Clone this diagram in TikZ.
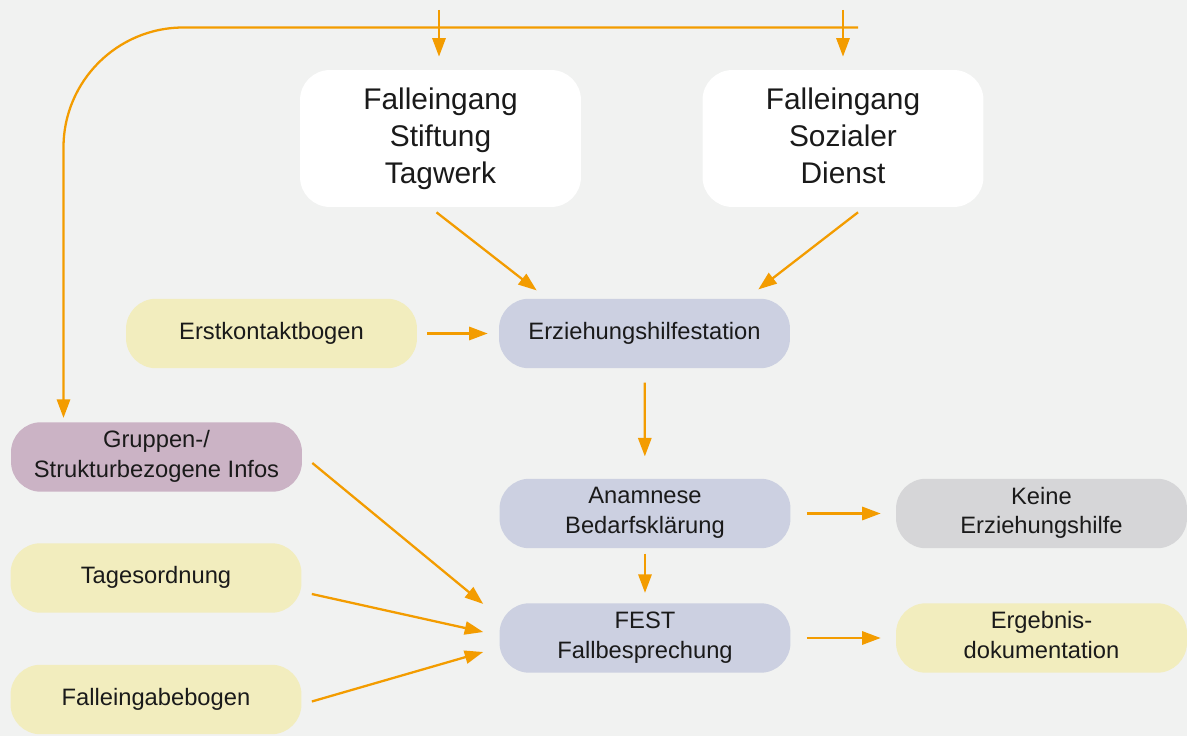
\documentclass[tikz,border=0pt]{standalone}
\usepackage{fontspec}
\setmainfont{Liberation Sans}
\usepackage{xcolor}
\usepackage{tikz}
\usetikzlibrary{arrows.meta, calc}

\definecolor{bgGrey}{RGB}{241,242,241}
\definecolor{arrOrange}{RGB}{243,156,0}
\definecolor{boxYellow}{RGB}{242,237,190}
\definecolor{boxBlue}{RGB}{204,208,225}
\definecolor{boxMauve}{RGB}{203,179,197}
\definecolor{boxGrey}{RGB}{214,214,216}
\definecolor{txtBlack}{RGB}{26,26,26}

\newcommand{\boxstrut}{\rule[-3.5pt]{0pt}{12pt}}
\newcommand{\entrystrut}{\rule[-3pt]{0pt}{19pt}}

\begin{document}
\begin{tikzpicture}[
        x=0.02cm, y=-0.02cm,
        base/.style={rounded corners=0.6cm, inner sep=2pt, align=center, text=txtBlack},
        box/.style={base, minimum width=5.82cm, minimum height=1.39cm, font=\fontsize{13.5}{17}\selectfont, execute at begin node=\boxstrut, execute at end node=\boxstrut},
        entry/.style={base, fill=white, minimum width=5.62cm, minimum height=2.74cm, font=\fontsize{17}{21}\selectfont, execute at begin node=\entrystrut, execute at end node=\entrystrut},
        arr/.style={draw=arrOrange, line width=1.3pt, -{Triangle[length=10.5pt, width=7.5pt]}}
    ]
    % Background
    \fill[bgGrey] (0,0) rectangle (1187,736);
    \useasboundingbox (0,0) rectangle (1187,736);

    % Case entries
    \node[entry] (stiftung) at (440.5,138.5) {Falleingang\\Stiftung\\Tagwerk};
    \node[entry] (sozial) at (843,138.5) {Falleingang\\Sozialer\\Dienst};

    % Boxes
    \node[box, fill=boxYellow] (erstkontakt) at (271.5,333.5) {Erstkontaktbogen};
    \node[box, fill=boxBlue] (station) at (644.5,333.5) {Erziehungshilfestation};
    \node[box, fill=boxMauve] (gruppen) at (156.5,457) {Gruppen-/\\Strukturbezogene Infos};
    \node[box, fill=boxYellow] (tagesordnung) at (156,578) {Tagesordnung};
    \node[box, fill=boxYellow] (eingabe) at (156,699.5) {Falleingabebogen};
    \node[box, fill=boxBlue] (anamnese) at (645,513.5) {Anamnese\\Bedarfsklärung};
    \node[box, fill=boxBlue] (fest) at (645,638) {FEST\\Fallbesprechung};
    \node[box, fill=boxGrey] (keine) at (1041.5,513.5) {Keine\\Erziehungshilfe};
    \node[box, fill=boxYellow] (ergebnis) at (1041.5,638) {Ergebnis-\\dokumentation};

    % Incoming line on top
    \coordinate (busR) at (858,27.5);
    \coordinate (busL) at (63.5,27.5);
    \coordinate (inStiftung) at (439,10);
    \coordinate (inSozial) at (843,10);
    \draw[arr, rounded corners=2.4cm, shorten >=0.08cm] (busR) -- (busL) -- (busL |- gruppen.north);
    \draw[arr, shorten >=0.26cm] (inStiftung) -- (inStiftung |- stiftung.north);
    \draw[arr, shorten >=0.26cm] (inSozial) -- (inSozial |- sozial.north);

    % Arrows between boxes
    \draw[arr] ($(stiftung.south)+(-4,5)$) -- ($(station.north west)+(38,-8)$);
    \draw[arr] ($(sozial.south)+(15,5)$) -- ($(station.north east)+(-32,-9)$);
    \draw[arr, shorten <=0.2cm, shorten >=0.22cm] (erstkontakt) -- (station);
    \draw[arr, shorten <=0.28cm, shorten >=0.44cm] (station) -- (anamnese);
    \draw[arr, shorten <=0.1cm, shorten >=0.2cm] (anamnese) -- (fest);
    \draw[arr, shorten <=0.32cm, shorten >=0.3cm] (anamnese) -- (keine);
    \draw[arr, shorten <=0.32cm, shorten >=0.3cm] (fest) -- (ergebnis);

    % Inputs to the case meeting
    \draw[arr] ($(gruppen.east)+(10,6)$) -- ($(fest.north west)+(-16,1)$);
    \draw[arr] ($(tagesordnung.east)+(10,16)$) -- ($(fest.west)+(-16,-6)$);
    \draw[arr] ($(eingabe.east)+(10,2)$) -- ($(fest.west)+(-16,14)$);

\end{tikzpicture}
\end{document}
